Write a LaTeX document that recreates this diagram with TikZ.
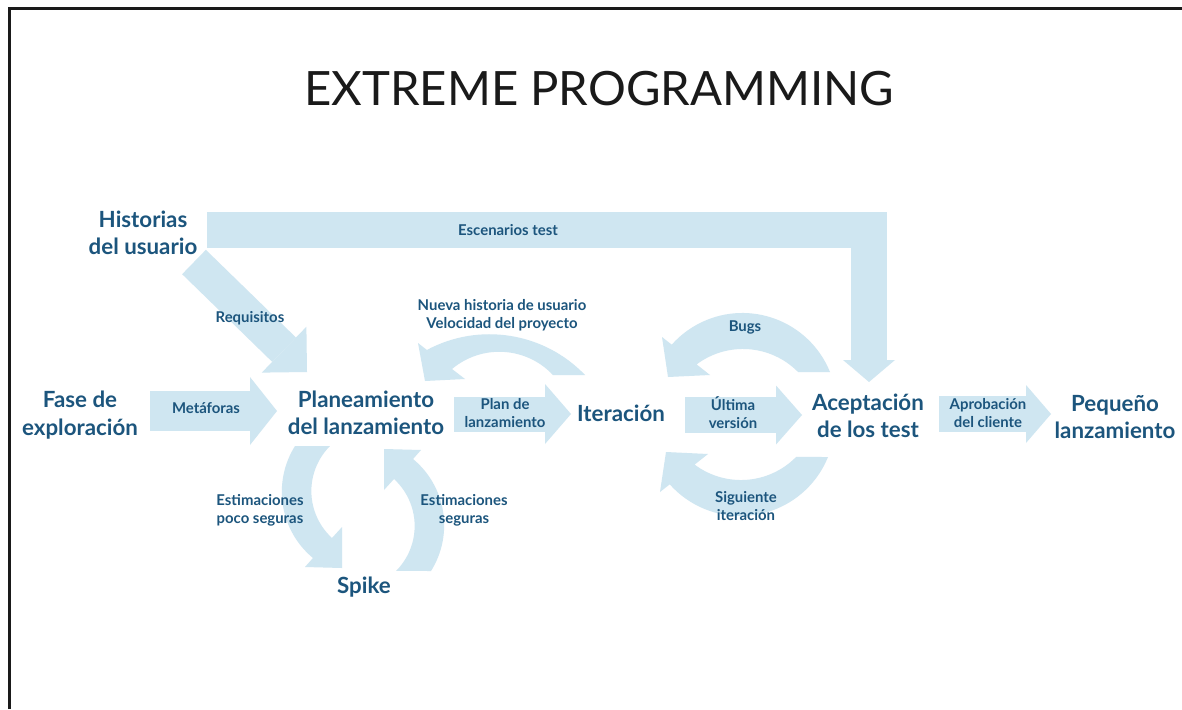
\documentclass[tikz,border=0pt]{standalone}
\usepackage{fontspec}
\setmainfont{Lato}
\usetikzlibrary{arrows.meta}
\definecolor{arrowblue}{HTML}{CFE6F1}
\definecolor{labelblue}{HTML}{1C557D}
\definecolor{inkgray}{HTML}{1A1A1A}

% straight block arrow: from, to, body width, head width, head length
\newcommand\blockarrow[5]{%
  \draw[arrowblue, line width=#3pt, -{Triangle[length=#5pt,width=#4pt,line width=0pt]}] (#1) -- (#2);}

\begin{document}
\begin{tikzpicture}[x=1pt,y=-1pt,
  big/.style={font=\bfseries\fontsize{22.3}{27.5}\selectfont, text=labelblue, align=center, inner sep=0pt},
  small/.style={font=\bfseries\fontsize{14.9}{18}\selectfont, text=labelblue, align=center, inner sep=0pt},
  band/.style={fill=arrowblue}]
\useasboundingbox (0,0) rectangle (1182,709);
\fill[white] (0,0) rectangle (1182,709);

% frame
\draw[inkgray, line width=2.6pt] (9.5,709) -- (9.5,8.5) -- (1182,8.5);

% title
\node[font=\fontsize{47.3}{56}\selectfont, text=inkgray, inner sep=0pt] (title) at (599,89) {EXTREME PROGRAMMING};

% end points of the straight arrows
\coordinate (met-s) at (150,411);  \coordinate (met-e) at (277,411);
\coordinate (pla-s) at (454,414);  \coordinate (pla-e) at (571,414);
\coordinate (ult-s) at (685,415);  \coordinate (ult-e) at (802,415);
\coordinate (apr-s) at (939,414);  \coordinate (apr-e) at (1051,414);
\coordinate (req-s) at (194,262);  \coordinate (req-e) at (307,372);
\coordinate (esc-s) at (207,230);  \coordinate (esc-c) at (869,230);  \coordinate (esc-e) at (869,382);

% straight arrows
\blockarrow{met-s}{met-e}{40}{68}{27}
\blockarrow{pla-s}{pla-e}{35}{60}{26}
\blockarrow{ult-s}{ult-e}{36}{59}{26}
\blockarrow{apr-s}{apr-e}{36}{58}{25}
\blockarrow{req-s}{req-e}{34}{64}{32}
\draw[arrowblue, line width=36pt, line join=miter,
      -{Triangle[length=22pt,width=52pt,line width=0pt]}] (esc-s) -- (esc-c) -- (esc-e);

% curved arrows: outer arc, head, inner arc back
% Iteracion -> Planeamiento (over the top)
\fill[band] (585,375) arc[start angle=-43.8, end angle=-118.2, radius=132.4]
   -- (418,343) -- (425,381) -- (465,379) -- (452,369)
   arc[start angle=-130, end angle=-43.1, radius=73.6] -- cycle;
% Aceptacion -> Iteracion (bugs)
\fill[band] (830,372) arc[start angle=-22.1, end angle=-138.3, radius=94.6]
   -- (662,337) -- (668,377) -- (710,375) -- (696.6,364.4)
   arc[start angle=-126.8, end angle=-44.6, radius=77.4] -- cycle;
% Aceptacion -> Iteracion (next iteration)
\fill[band] (828,457) arc[start angle=22.1, end angle=138.3, radius=94.6]
   -- (660,492) -- (666,452) -- (708,454) -- (694.6,464.6)
   arc[start angle=126.8, end angle=44.6, radius=77.4] -- cycle;
% Planeamiento -> Spike
\fill[band] (295,446) arc[start angle=212.1, end angle=129.7, radius=86.1]
   -- (305,567) -- (342,568) -- (342,527) -- (332,538)
   arc[start angle=132.5, end angle=224.9, radius=63.7] -- cycle;
% Spike -> Planeamiento
\begin{scope}[rotate around={180:(363,508.5)}]
\fill[band] (295,446) arc[start angle=212.1, end angle=129.7, radius=86.1]
   -- (305,567) -- (342,568) -- (342,527) -- (332,538)
   arc[start angle=132.5, end angle=224.9, radius=63.7] -- cycle;
\end{scope}

% stages
\node[big] (hist) at (143,233) {Historias\\del usuario};
\node[big] (fase) at (80,415) {Fase de\\exploración};
\node[big] (plan) at (366,413) {Planeamiento\\del lanzamiento};
\node[big] (iter) at (621,413) {Iteración};
\node[big] (acep) at (868,416) {Aceptación\\de los test};
\node[big] (peq) at (1115,417) {Pequeño\\lanzamiento};
\node[big] (spike) at (364,587) {Spike};

% arrow labels
\node[small] (l-req) at (250,318) {Requisitos};
\node[small] (l-met) at (206,408) {Metáforas};
\node[small] (l-esc) at (508,230) {Escenarios test};
\node[small] (l-nue) at (502,315) {Nueva historia de usuario\\Velocidad del proyecto};
\node[small] (l-pla) at (505,413) {Plan de\\lanzamiento};
\node[small] (l-bug) at (745,327) {Bugs};
\node[small] (l-ult) at (733,413) {Última\\versión};
\node[small] (l-sig) at (746,506) {Siguiente\\iteración};
\node[small] (l-est1) at (260,510) {Estimaciones\\poco seguras};
\node[small] (l-est2) at (464,510) {Estimaciones\\seguras};
\node[small] (l-apr) at (988,413) {Aprobación\\del cliente};
\end{tikzpicture}
\end{document}
